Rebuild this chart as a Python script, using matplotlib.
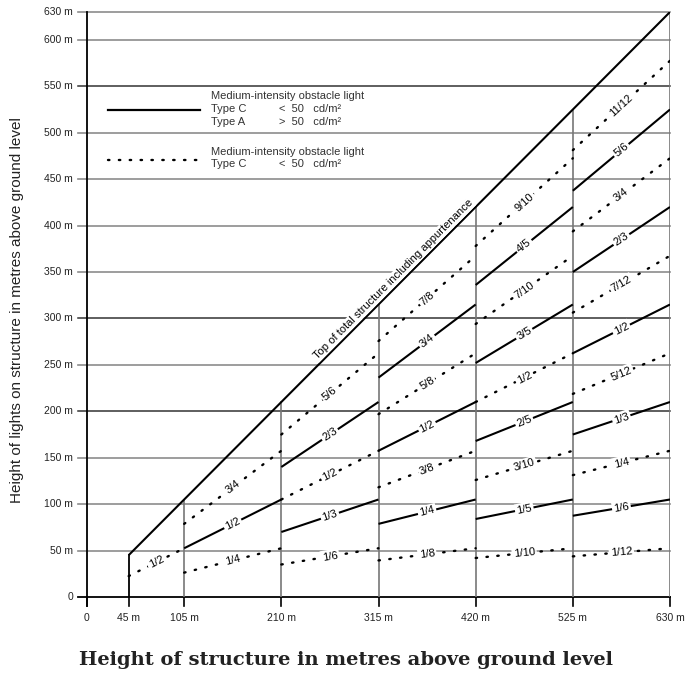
import numpy as np
import matplotlib
matplotlib.use("Agg")
import matplotlib.pyplot as plt
from matplotlib import font_manager

# ---- data -------------------------------------------------------------
x_ticks = [0, 45, 105, 210, 315, 420, 525, 630]
x_tick_labels = ["0", "45 m", "105 m", "210 m", "315 m", "420 m", "525 m", "630 m"]
y_ticks = [0, 50, 100, 150, 200, 250, 300, 350, 400, 450, 500, 550, 600, 630]
y_tick_labels = ["0"] + [f"{v} m" for v in y_ticks[1:]]
dark_grid_levels = [200, 300, 550]

# structure height bands (m): start and end of each band
band_starts = [45, 105, 210, 315, 420, 525]
band_ends = [105, 210, 315, 420, 525, 630]

# light levels in each band, as fraction of structure height
band_fractions = [
    ["1/2"],
    ["1/4", "1/2", "3/4"],
    ["1/6", "1/3", "1/2", "2/3", "5/6"],
    ["1/8", "1/4", "3/8", "1/2", "5/8", "3/4", "7/8"],
    ["1/10", "1/5", "3/10", "2/5", "1/2", "3/5", "7/10", "4/5", "9/10"],
    ["1/12", "1/6", "1/4", "1/3", "5/12", "1/2", "7/12", "2/3", "3/4", "5/6", "11/12"],
]
# 's' = Type C / Type A level (solid), 'd' = Type C only (dotted)
band_styles = [
    ["d"],
    ["d", "s", "d"],
    ["d", "s", "d", "s", "d"],
    ["d", "s", "d", "s", "d", "s", "d"],
    ["d", "s", "d", "s", "d", "s", "d", "s", "d"],
    ["d", "s", "d", "s", "d", "s", "d", "s", "d", "s", "d"],
]
top_x = [45, 630]
top_y = [45, 630]

# ---- fonts --------------------------------------------------------------
def pick(fams):
    for f in fams:
        try:
            font_manager.findfont(f, fallback_to_default=False)
            return f
        except Exception:
            pass
    return "DejaVu Sans"

narrow = pick(["Liberation Sans Narrow", "Liberation Sans"])
sans = pick(["Liberation Sans", "DejaVu Sans"])
serif_b = pick(["DejaVu Serif"])

# ---- figure -------------------------------------------------------------
fig = plt.figure(figsize=(6.86, 6.78), dpi=100)
ax = fig.add_axes([87 / 686, 81 / 678, 583 / 686, 585 / 678])
ax.set_xlim(0, 630)
ax.set_ylim(0, 630)
ax.axis("off")

def frac(s):
    a, b = s.split("/")
    return int(a) / int(b)

# horizontal grid, extended left as tick marks
for v, lab in zip(y_ticks, y_tick_labels):
    if v == 0:
        col, lw = "black", 1.3
    elif v in dark_grid_levels:
        col, lw = "#333333", 1.1
    else:
        col, lw = "#8c8c8c", 1.2
    ax.plot([-10, 630], [v, v], color=col, lw=lw, clip_on=False, zorder=1)
    ax.text(-15, v, lab, ha="right", va="center", fontsize=7.5,
            family=narrow, color="#222222", clip_on=False)

# vertical axis line and x tick marks
ax.plot([0, 0], [-10, 630], color="black", lw=1.3, clip_on=False, zorder=2)
for v, lab in zip(x_ticks, x_tick_labels):
    ax.plot([v, v], [-10, 0], color="black", lw=1.2, clip_on=False, zorder=2)
    ax.text(v, -17, lab, ha="center", va="top", fontsize=7.5,
            family=narrow, color="#222222", clip_on=False)

# band boundaries
ax.plot([45, 45], [0, 45], color="black", lw=1.3, zorder=2)
for e in band_ends:
    ax.plot([e, e], [0, e], color="#777777", lw=1.2, zorder=2)

# top of structure
ax.plot(top_x, top_y, color="black", lw=1.5, zorder=3, solid_capstyle="butt")

fig.canvas.draw()

def angle_of(slope):
    p0 = ax.transData.transform((0, 0))
    p1 = ax.transData.transform((100, 100 * slope))
    return np.degrees(np.arctan2(p1[1] - p0[1], p1[0] - p0[0]))

# light level lines with their fraction labels
for a, b, fr_list, st_list in zip(band_starts, band_ends, band_fractions, band_styles):
    for fr, st in zip(fr_list, st_list):
        f = frac(fr)
        xs = np.array([a, b])
        if st == "s":
            ax.plot(xs, f * xs, color="black", lw=1.5, zorder=3,
                    solid_capstyle="butt")
        else:
            ax.plot(xs, f * xs, color="black", lw=1.7, zorder=3,
                    linestyle=(0, (0.6, 4.0)), dash_capstyle="round")
        xm = (a + b) / 2
        ax.text(xm, f * xm, fr, rotation=angle_of(f), rotation_mode="anchor",
                ha="center", va="center", fontsize=8, family=narrow,
                color="black", zorder=4,
                bbox=dict(boxstyle="square,pad=0.15", fc="white", ec="none"))

# label along the top line
ang = angle_of(1.0)
ax.text(331, 342, "Top of total structure including appurtenance",
        rotation=ang, rotation_mode="anchor", ha="center", va="center",
        fontsize=8, family=narrow, color="black", zorder=4,
        bbox=dict(boxstyle="square,pad=0.1", fc="white", ec="none"))

# key
ax.plot([23, 122], [524.5, 524.5], color="black", lw=1.6, zorder=3)
ax.plot([23, 122], [470.5, 470.5], color="black", lw=1.7, zorder=3,
        linestyle=(0, (0.6, 4.0)), dash_capstyle="round")
kfs = 8
kc = "#333333"
ax.text(134, 539.5, "Medium-intensity obstacle light", fontsize=kfs, family=narrow, color=kc, va="center")
ax.text(134, 525.5, "Type C", fontsize=kfs, family=narrow, color=kc, va="center")
ax.text(208, 525.5, "<  50   cd/m²", fontsize=kfs, family=narrow, color=kc, va="center")
ax.text(134, 511.5, "Type A", fontsize=kfs, family=narrow, color=kc, va="center")
ax.text(208, 511.5, ">  50   cd/m²", fontsize=kfs, family=narrow, color=kc, va="center")
ax.text(134, 479, "Medium-intensity obstacle light", fontsize=kfs, family=narrow, color=kc, va="center")
ax.text(134, 466, "Type C", fontsize=kfs, family=narrow, color=kc, va="center")
ax.text(208, 466, "<  50   cd/m²", fontsize=kfs, family=narrow, color=kc, va="center")

# axis titles
fig.text(17 / 686, 1 - 310 / 678,
         "Height of lights on structure in metres above ground level",
         rotation=90, ha="center", va="center", fontsize=11, family=sans,
         color="#222222")
fig.text(346 / 686, 1 - 660 / 678,
         "Height of structure in metres above ground level",
         ha="center", va="center", fontsize=14, family=serif_b,
         fontweight="bold", color="#222222")

fig.savefig("out.png", dpi=100)
